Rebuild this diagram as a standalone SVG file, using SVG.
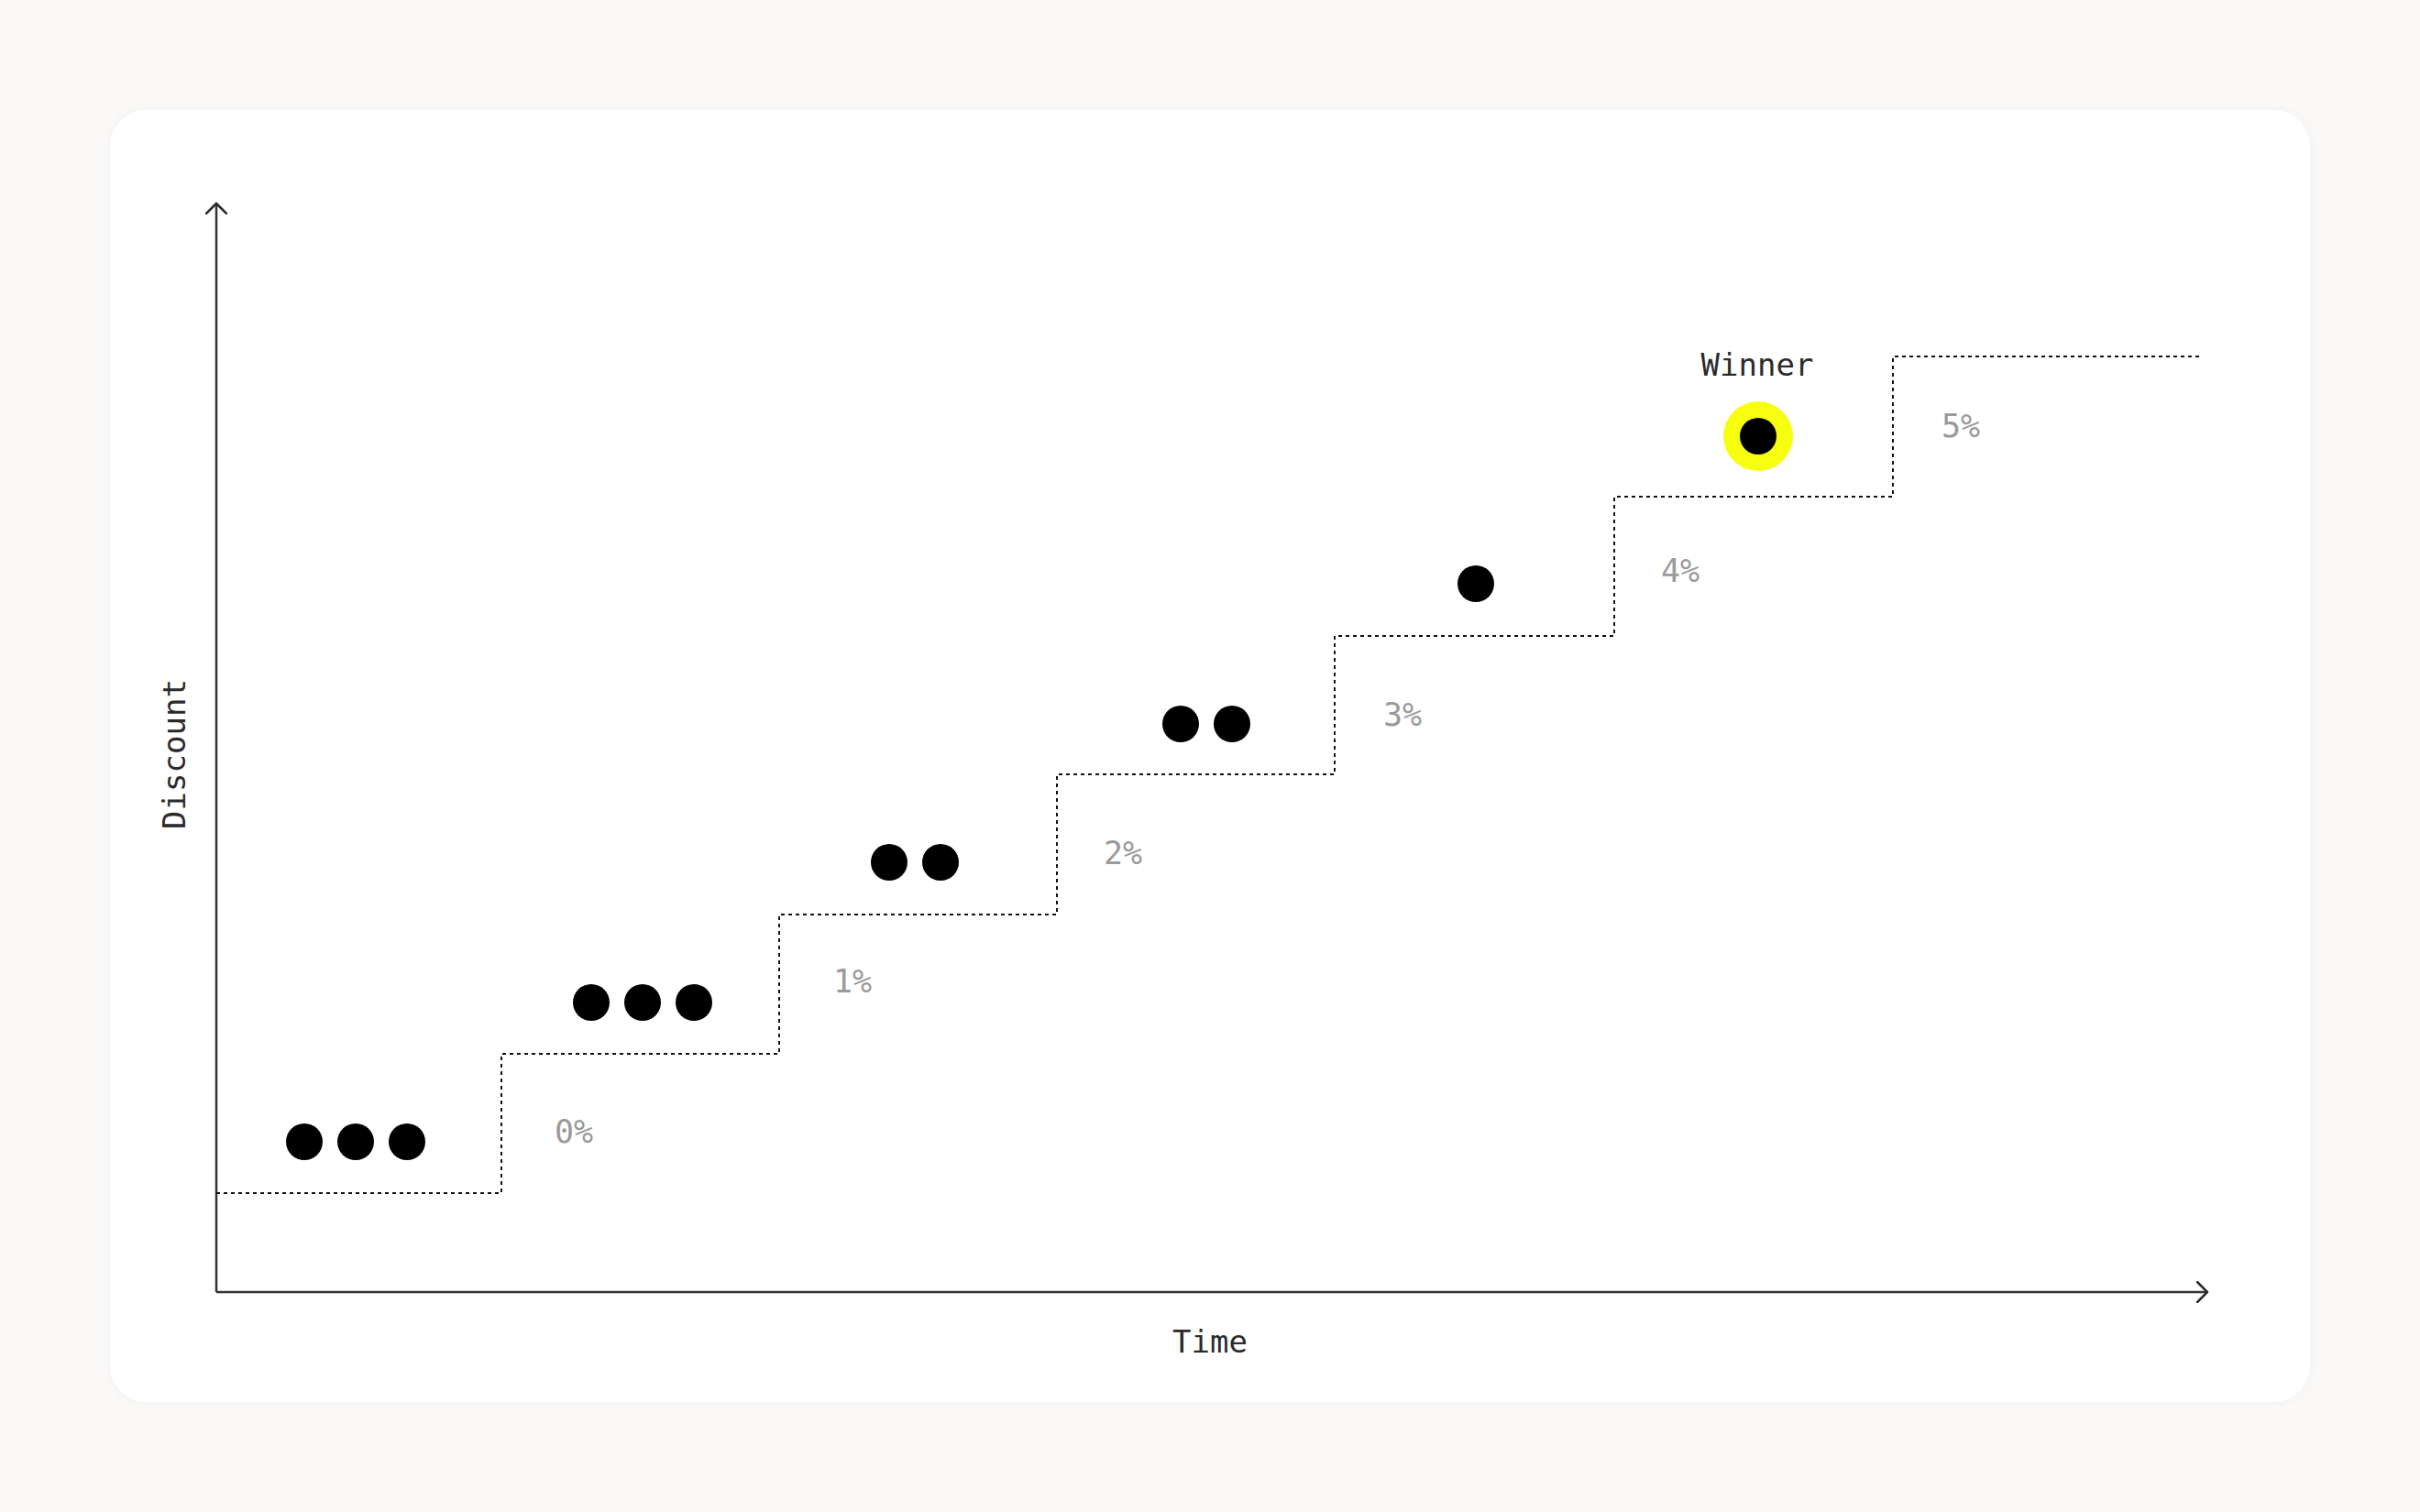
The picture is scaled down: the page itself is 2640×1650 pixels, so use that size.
<svg xmlns="http://www.w3.org/2000/svg" width="2640" height="1650" viewBox="0 0 2640 1650">
<defs>
<filter id="sh" x="-5%" y="-5%" width="110%" height="110%">
<feDropShadow dx="0" dy="0" stdDeviation="6" flood-color="#000" flood-opacity="0.04"/>
</filter>
<marker id="arr" viewBox="0 0 14 24" refX="12" refY="12" markerWidth="14" markerHeight="24" markerUnits="userSpaceOnUse" orient="auto">
<path d="M1 1 L12 12 L1 23" fill="none" stroke="#2b2b2b" stroke-width="2.5" stroke-linecap="round" stroke-linejoin="round"/>
</marker>
<style>
.ax{fill:none;stroke:#333;stroke-width:2.5}
.step{fill:none;stroke:#111;stroke-width:2;stroke-dasharray:4 4}
.dot{fill:#000}
.lbl{font-family:"DejaVu Sans Mono","Liberation Mono",monospace;font-size:34px;fill:#2b2b2b}
.pct{font-family:"DejaVu Sans Mono","Liberation Mono",monospace;font-size:35px;fill:#9a9a9a}
</style>
</defs>
<rect width="2640" height="1650" fill="#faf9f7"/>
<rect x="120" y="120" width="2400" height="1410" rx="40" fill="#fff" filter="url(#sh)"/>
<g id="connectors">
<path id="y-axis" class="ax" d="M236 1410 V222" marker-end="url(#arr)"/>
<path id="x-axis" class="ax" d="M236 1410 H2408" marker-end="url(#arr)"/>
<path id="steps" class="step" d="M236 1302 H547 V1150 H850 V998 H1153 V845 H1456 V694 H1761 V542 H2065 V389 H2400"/>
</g>
<g id="axis-labels">
<text class="lbl" x="1320" y="1476" text-anchor="middle">Time</text>
<text class="lbl" transform="translate(202 823) rotate(-90)" text-anchor="middle">Discount</text>
</g>
<g id="step-labels">
<text class="pct" x="605" y="1247">0%</text>
<text class="pct" x="909" y="1083">1%</text>
<text class="pct" x="1204" y="943">2%</text>
<text class="pct" x="1509" y="792">3%</text>
<text class="pct" x="1812" y="635">4%</text>
<text class="pct" x="2118" y="477">5%</text>
</g>
<g id="group-0"><circle class="dot" cx="332" cy="1246" r="20"/><circle class="dot" cx="388" cy="1246" r="20"/><circle class="dot" cx="444" cy="1246" r="20"/></g>
<g id="group-1"><circle class="dot" cx="645" cy="1094" r="20"/><circle class="dot" cx="701" cy="1094" r="20"/><circle class="dot" cx="757" cy="1094" r="20"/></g>
<g id="group-2"><circle class="dot" cx="970" cy="941" r="20"/><circle class="dot" cx="1026" cy="941" r="20"/></g>
<g id="group-3"><circle class="dot" cx="1288" cy="790" r="20"/><circle class="dot" cx="1344" cy="790" r="20"/></g>
<g id="group-4"><circle class="dot" cx="1610" cy="637" r="20"/></g>
<g id="winner">
<circle cx="1918" cy="476" r="38" fill="#f7ff0f"/>
<circle class="dot" cx="1918" cy="476" r="20"/>
<text class="lbl" x="1917" y="410" text-anchor="middle">Winner</text>
</g>
</svg>
